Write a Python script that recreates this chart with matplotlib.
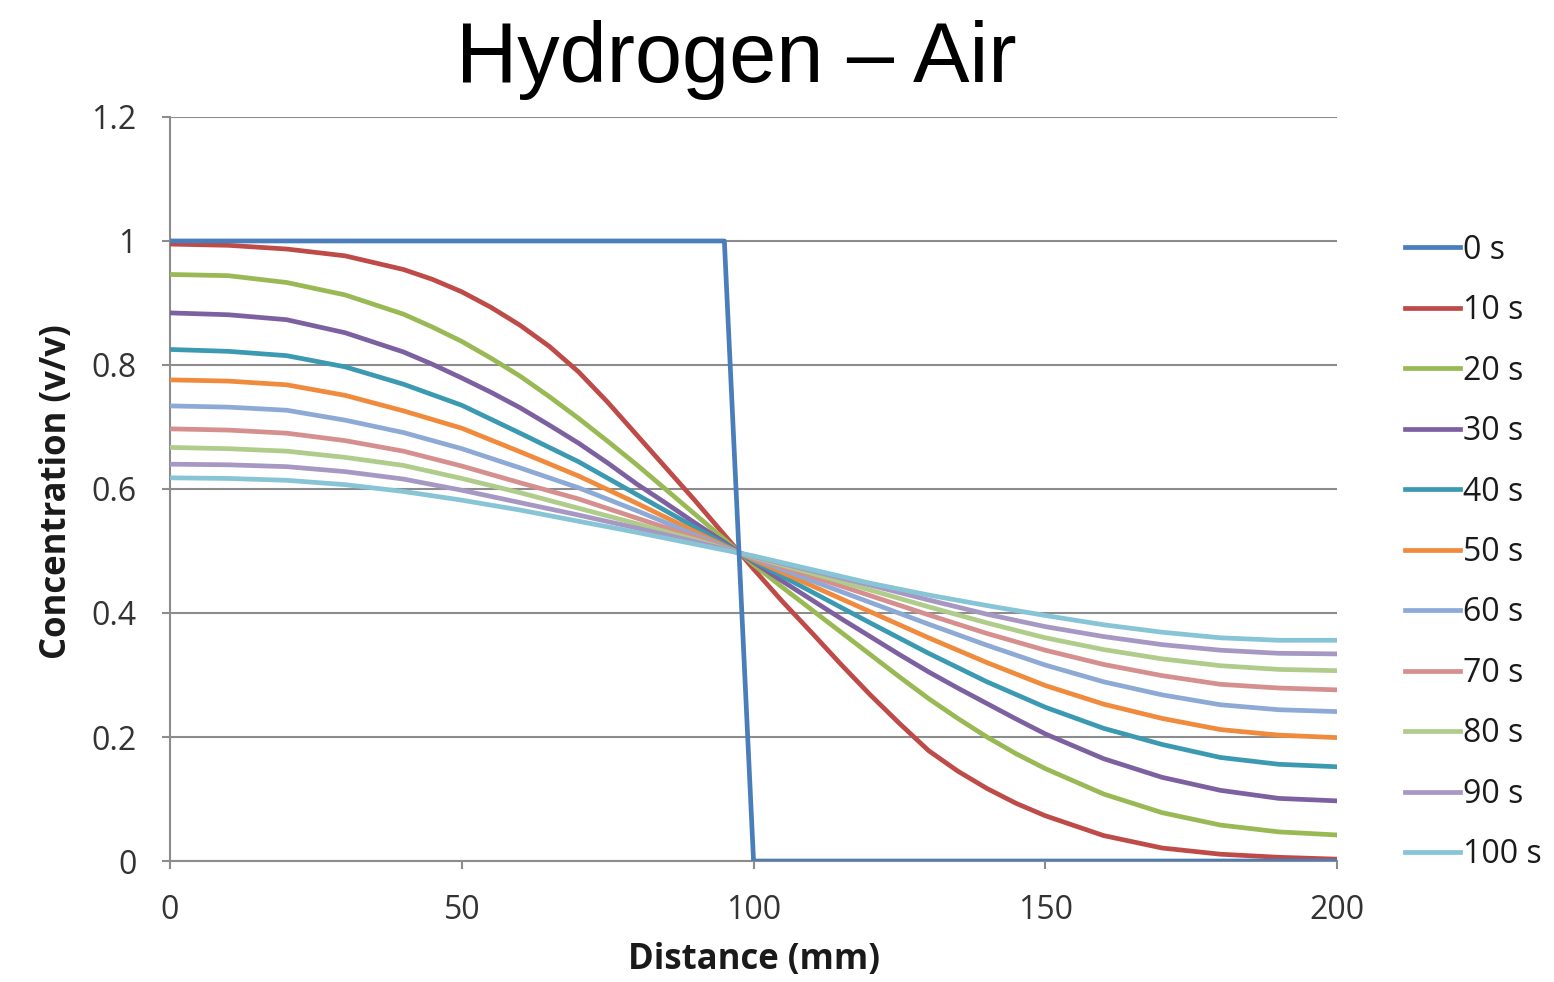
import matplotlib.pyplot as plt

# distance along tube (mm)
x_mm = [0, 10, 20, 30, 40, 50, 60, 70, 80, 90, 100, 110, 120, 130, 140, 150, 160, 170, 180, 190, 200]
# denser read-off for the steep early profiles
x_fine = [0, 10, 20, 30, 40, 45, 50, 55, 60, 65, 70, 75, 80, 85, 90, 95, 100, 105, 110, 115,
          120, 125, 130, 135, 140, 145, 150, 160, 170, 180, 190, 200]
x_0s = [0, 10, 20, 30, 40, 50, 60, 70, 80, 90, 95, 100, 110, 120, 130, 140, 150, 160, 170, 180, 190, 200]
c_0s = [1, 1, 1, 1, 1, 1, 1, 1, 1, 1, 1, 0, 0, 0, 0, 0, 0, 0, 0, 0, 0, 0]

c_10s = [0.995, 0.993, 0.987, 0.976, 0.954, 0.938, 0.918, 0.893, 0.864, 0.830, 0.789, 0.740,
         0.687, 0.634, 0.581, 0.526, 0.471, 0.418, 0.368, 0.317, 0.268, 0.222, 0.178, 0.145,
         0.117, 0.093, 0.073, 0.041, 0.021, 0.011, 0.006, 0.003]
c_20s = [0.946, 0.944, 0.933, 0.913, 0.882, 0.861, 0.838, 0.811, 0.782, 0.749, 0.714, 0.677,
         0.639, 0.599, 0.559, 0.519, 0.478, 0.441, 0.405, 0.369, 0.333, 0.297, 0.262, 0.230,
         0.200, 0.173, 0.149, 0.108, 0.078, 0.058, 0.047, 0.042]
c_30s = [0.884, 0.881, 0.873, 0.852, 0.821, 0.801, 0.779, 0.756, 0.731, 0.703, 0.674, 0.642,
         0.608, 0.577, 0.545, 0.514, 0.482, 0.451, 0.421, 0.391, 0.362, 0.333, 0.305, 0.279,
         0.254, 0.229, 0.205, 0.165, 0.135, 0.114, 0.101, 0.097]
c_40s = [0.825, 0.822, 0.815, 0.797, 0.769, 0.735, 0.690, 0.644, 0.591, 0.538, 0.484,
         0.434, 0.384, 0.335, 0.289, 0.248, 0.214, 0.188, 0.167, 0.156, 0.152]
c_50s = [0.776, 0.774, 0.768, 0.751, 0.726, 0.698, 0.660, 0.621, 0.577, 0.531, 0.486,
         0.444, 0.402, 0.360, 0.320, 0.283, 0.253, 0.230, 0.212, 0.203, 0.199]
c_60s = [0.734, 0.732, 0.727, 0.711, 0.691, 0.665, 0.634, 0.602, 0.565, 0.526, 0.488,
         0.452, 0.417, 0.382, 0.348, 0.316, 0.289, 0.268, 0.252, 0.244, 0.241]
c_70s = [0.697, 0.695, 0.690, 0.678, 0.661, 0.637, 0.610, 0.584, 0.553, 0.522, 0.489,
         0.459, 0.428, 0.397, 0.367, 0.340, 0.317, 0.299, 0.285, 0.279, 0.276]
c_80s = [0.667, 0.665, 0.661, 0.651, 0.638, 0.617, 0.594, 0.569, 0.544, 0.518, 0.490,
         0.464, 0.437, 0.410, 0.384, 0.360, 0.341, 0.326, 0.315, 0.309, 0.307]
c_90s = [0.640, 0.639, 0.636, 0.628, 0.616, 0.598, 0.578, 0.558, 0.537, 0.515, 0.491,
         0.468, 0.445, 0.421, 0.398, 0.378, 0.362, 0.349, 0.340, 0.335, 0.334]
c_100s = [0.618, 0.617, 0.614, 0.607, 0.596, 0.582, 0.566, 0.548, 0.530, 0.511, 0.492,
          0.470, 0.448, 0.429, 0.412, 0.396, 0.381, 0.369, 0.360, 0.356, 0.356]

labels = ['0 s', '10 s', '20 s', '30 s', '40 s', '50 s', '60 s', '70 s', '80 s', '90 s', '100 s']
colors = ['#4a7ebb', '#be4b48', '#98b954', '#7d60a0', '#3b9ab2', '#f08a3c',
          '#8da9d6', '#d58f8e', '#afcc8a', '#a797c3', '#86c4d6']
series = [(x_fine, c_10s), (x_fine, c_20s), (x_fine, c_30s), (x_mm, c_40s), (x_mm, c_50s),
          (x_mm, c_60s), (x_mm, c_70s), (x_mm, c_80s), (x_mm, c_90s), (x_mm, c_100s)]

plt.rcParams['font.family'] = ['Open Sans', 'DejaVu Sans']

fig = plt.figure(figsize=(15.54, 9.82), dpi=100)
ax = fig.add_axes([0.1094, 0.1232, 0.7510, 0.7577])

ax.plot(x_0s, c_0s, color=colors[0], lw=3.4, label=labels[0], zorder=5)
for i in range(len(series)):
    xs, ys = series[i]
    ax.plot(xs, ys, color=colors[i + 1], lw=3.4, label=labels[i + 1], zorder=3)

ax.set_xlim(0, 200)
ax.set_ylim(0, 1.2)
ax.set_xticks([0, 50, 100, 150, 200])
ax.set_yticks([0, 0.2, 0.4, 0.6, 0.8, 1.0, 1.2])
ax.set_yticklabels(['0', '0.2', '0.4', '0.6', '0.8', '1', '1.2'])

ax.yaxis.grid(True, color='#8c8c8c', lw=1.5)
ax.set_axisbelow(True)
for s in ['top', 'right']:
    ax.spines[s].set_visible(False)
for s in ['left', 'bottom']:
    ax.spines[s].set_color('#8c8c8c')
    ax.spines[s].set_linewidth(1.5)

ax.tick_params(axis='both', colors='#8c8c8c', width=1.5, length=6, labelsize=23,
               labelcolor='#333333')
ax.tick_params(axis='x', pad=18)
ax.tick_params(axis='y', pad=18)

fig.text(0.474, 0.9165, 'Hydrogen \u2013 Air', ha='center', va='baseline',
         fontsize=61, family='Liberation Sans')
fig.text(0.4852, 0.004, 'Distance (mm)', ha='center', va='bottom',
         fontsize=25, fontweight='bold', color='#1a1a1a')
fig.text(0.037, 0.499, 'Concentration (v/v)', ha='center', va='center',
         rotation=90, fontsize=25, fontweight='bold', color='#1a1a1a')

leg = ax.legend(loc='center left', bbox_to_anchor=(0.904, 0.4374),
                bbox_transform=fig.transFigure, frameon=False, fontsize=23,
                handlelength=1.72, handletextpad=0.1, labelspacing=0.86,
                borderpad=0, borderaxespad=0)
for t in leg.get_texts():
    t.set_color('#1a1a1a')

fig.savefig('out.png', dpi=100)
